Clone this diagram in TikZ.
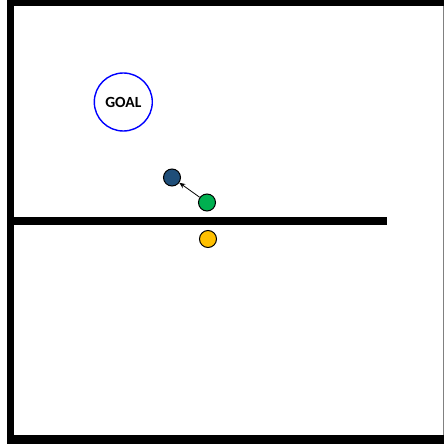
\documentclass[tikz,border=0pt]{standalone}
\usepackage{fontspec}
\setsansfont{Carlito}
\usetikzlibrary{arrows.meta}
\definecolor{agentcol} {RGB}{31, 78, 121}
\definecolor{greencol} {RGB}{0, 176, 80}
\definecolor{yellowcol}{RGB}{255, 192, 0}
\definecolor{goalcol}  {RGB}{0, 0, 255}
\begin{document}
\begin{tikzpicture}[
  x=1pt,y=-1pt,
  dot/.style ={circle,draw=black,minimum size=17pt,inner sep=0pt,line width=1pt},
  dblue/.style ={dot,fill=agentcol},
  dgreen/.style={dot,fill=greencol},
  dyel/.style  ={dot,fill=yellowcol},
  goal/.style ={circle,draw=goalcol,minimum size=58pt,inner sep=0pt,line width=1.4pt,
                font=\sffamily\bfseries\fontsize{15.5}{17}\selectfont},
  wall/.style ={fill=black},
  >=Stealth
]
\useasboundingbox (0,0) rectangle (444,444);
% outer walls
\fill[wall] (6.7,0) rectangle (14,444);
\fill[wall] (6.7,0) rectangle (444,6);
\fill[wall] (6.7,435) rectangle (444,444);
\draw[gray,line width=1pt] (443.5,6) -- (443.5,435);
% inner wall
\fill[wall] (14,217) rectangle (386.5,225);
% goal and agents
\node[goal]   (goal) at (123.3,102) {GOAL};
\node[dblue]  (b) at (172,177.5) {};
\node[dgreen] (g) at (207,202.5) {};
\node[dyel]   (y) at (208,239) {};
\draw[line width=0.8pt,-{Stealth[length=6pt,width=5pt]}] (g) -- (b);
\end{tikzpicture}
\end{document}
